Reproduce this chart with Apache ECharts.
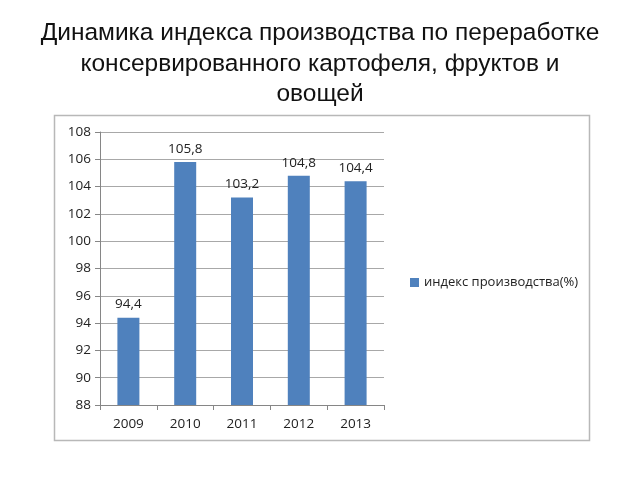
<!DOCTYPE html>
<html><head><meta charset="utf-8">
<script src="https://cdn.jsdelivr.net/npm/echarts@6/dist/echarts.min.js"></script>
<style>html,body{margin:0;padding:0;background:#fff}#c{width:640px;height:480px}</style>
</head><body><div id="c"></div>
<script>
const categories = ['2009','2010','2011','2012','2013'];
const values = [94.4, 105.8, 103.2, 104.8, 104.4];
const seriesName = 'индекс производства(%)';
const titleText = 'Динамика индекса производства по переработке\nконсервированного картофеля, фруктов и\nовощей';

const chart = echarts.init(document.getElementById('c'));
chart.setOption({
  animation: false,
  title: {
    text: titleText, left: 'center', top: 13,
    textStyle: {fontFamily: 'Liberation Sans', fontSize: 24.5, fontWeight: 'normal', color: '#111', lineHeight: 30.5}
  },
  graphic: [{type: 'rect', shape: {x: 54.5, y: 115.5, width: 535, height: 325},
    style: {fill: 'none', stroke: '#b8b8b8', lineWidth: 1.5}, z: -1}],
  legend: {
    data: [seriesName], left: 405, top: 271, icon: 'rect', itemWidth: 9, itemHeight: 9, itemGap: 4,
    textStyle: {fontFamily: 'Open Sans', fontSize: 13, color: '#222'}
  },
  grid: {left: 100, top: 132, width: 284, height: 273},
  xAxis: {
    type: 'category', data: categories,
    axisLine: {lineStyle: {color: '#868686'}},
    axisTick: {show: true, alignWithLabel: false, length: 5, lineStyle: {color: '#868686'}},
    axisLabel: {fontFamily: 'Open Sans', fontSize: 13.5, color: '#222', margin: 12}
  },
  yAxis: {
    type: 'value', min: 88, max: 108, interval: 2,
    axisLine: {show: true, lineStyle: {color: '#868686'}},
    axisTick: {show: true, length: 5, lineStyle: {color: '#868686'}},
    splitLine: {lineStyle: {color: '#a8a8a8'}},
    axisLabel: {fontFamily: 'Open Sans', fontSize: 13.5, color: '#222', margin: 9}
  },
  series: [{
    name: seriesName, type: 'bar', data: values, barWidth: 22,
    itemStyle: {color: '#4f81bd'},
    label: {show: true, position: 'top', distance: 6, fontFamily: 'Open Sans', fontSize: 13.5, color: '#222',
      formatter: p => String(p.value).replace('.', ',')}
  }]
});
</script></body></html>
